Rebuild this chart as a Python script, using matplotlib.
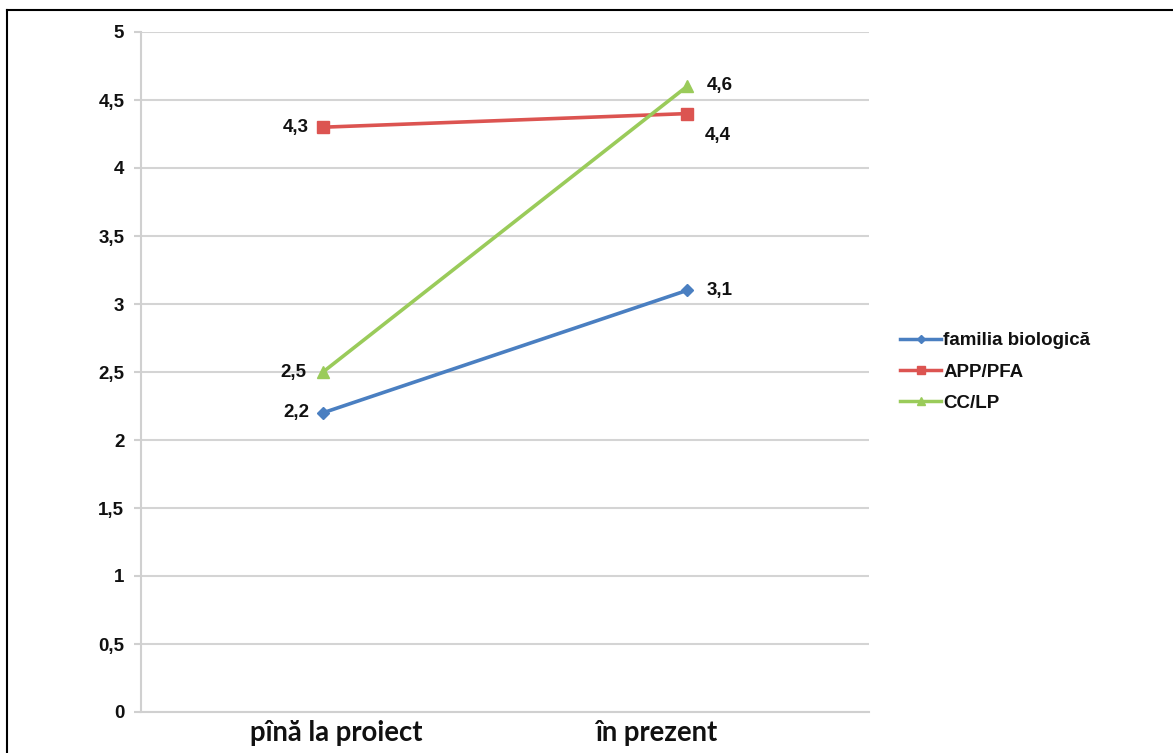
import matplotlib
matplotlib.use("Agg")
import matplotlib.pyplot as plt
from matplotlib.lines import Line2D

categories = ["pînă la proiect", "în prezent"]
series_names = ["familia biologică", "APP/PFA", "CC/LP"]
familia = [2.2, 3.1]
app_pfa = [4.3, 4.4]
cc_lp = [2.5, 4.6]
y_ticks = [0, 0.5, 1, 1.5, 2, 2.5, 3, 3.5, 4, 4.5, 5]
y_tick_labels = ["0", "0,5", "1", "1,5", "2", "2,5", "3", "3,5", "4", "4,5", "5"]

colors = ["#4a7fc1", "#dc5451", "#9acb5a"]
markers = ["D", "s", "^"]
msizes = [6, 9, 9]

fig = plt.figure(figsize=(11.73, 7.53), dpi=100)
ax = fig.add_axes([141/1173, 1-712/753, 728/1173, 680/753])

x = list(range(len(categories)))
for vals, c, m, ms, name in zip([familia, app_pfa, cc_lp], colors, markers, msizes, series_names):
    ax.plot(x, vals, color=c, lw=2.6, marker=m, ms=ms, label=name, zorder=3)

def fmt(v):
    return f"{v:.1f}".replace(".", ",")

FS = 13.5
lab_font = dict(fontsize=FS, fontweight="bold", family="Liberation Sans", color="#111111")
ax.annotate(fmt(familia[0]), (x[0], familia[0]), xytext=(-10, 0), textcoords="offset points", ha="right", va="center", **lab_font)
ax.annotate(fmt(familia[1]), (x[1], familia[1]), xytext=(14, 0), textcoords="offset points", ha="left", va="center", **lab_font)
ax.annotate(fmt(app_pfa[0]), (x[0], app_pfa[0]), xytext=(-10, 0), textcoords="offset points", ha="right", va="center", **lab_font)
ax.annotate(fmt(app_pfa[1]), (x[1], app_pfa[1]), xytext=(13, -16), textcoords="offset points", ha="left", va="center", **lab_font)
ax.annotate(fmt(cc_lp[0]), (x[0], cc_lp[0]), xytext=(-12, 0), textcoords="offset points", ha="right", va="center", **lab_font)
ax.annotate(fmt(cc_lp[1]), (x[1], cc_lp[1]), xytext=(14, 1), textcoords="offset points", ha="left", va="center", **lab_font)

ax.set_xlim(-0.5, 1.5)
ax.set_ylim(0, 5)
ax.set_yticks(y_ticks)
ax.set_yticklabels(y_tick_labels)
ax.set_xticks(x)
ax.set_xticklabels([])
for t in ax.get_yticklabels():
    t.set_fontsize(FS); t.set_fontweight("bold"); t.set_family("Liberation Sans"); t.set_color("#111111")

# category labels (placed slightly off-centre as in the reference)
cat_offsets = [9.4, -22]
for xi, lab, off in zip(x, categories, cat_offsets):
    ax.annotate(lab, (xi, 0), xytext=(off, -15), textcoords="offset points",
                ha="center", va="center", fontsize=19.8, fontweight="bold",
                family="Lato", color="#111111", annotation_clip=False)

ax.grid(axis="y", color="#d4d4d4", lw=1.5, zorder=0)
ax.set_axisbelow(True)
for s in ["top", "right"]:
    ax.spines[s].set_visible(False)
ax.spines["left"].set_color("#d0d0d0")
ax.spines["left"].set_linewidth(1.5)
ax.spines["bottom"].set_color("#d0d0d0")
ax.spines["bottom"].set_linewidth(1.5)
ax.tick_params(axis="y", length=5, color="#d0d0d0", width=1.5, pad=7)
ax.tick_params(axis="x", length=0)

handles = [Line2D([0], [0], color=c, lw=2.5, marker=m, ms=ms*0.7) for c, m, ms in zip(colors, markers, msizes)]
leg = fig.legend(handles, series_names, loc="center left", bbox_to_anchor=(900/1173, 1-372/753),
                 frameon=False, handlelength=2.2, handletextpad=0.1, labelspacing=0.75,
                 borderpad=0, borderaxespad=0,
                 prop=dict(family="Liberation Sans", weight="bold", size=FS))
for t in leg.get_texts():
    t.set_color("#111111")

# outer frame
fig.add_artist(Line2D([7/1173, 1.0], [1-10/753, 1-10/753], color="black", lw=1.5, transform=fig.transFigure))
fig.add_artist(Line2D([7/1173, 7/1173], [0, 1-10/753], color="black", lw=1.5, transform=fig.transFigure))

fig.savefig("out.png", dpi=100)
